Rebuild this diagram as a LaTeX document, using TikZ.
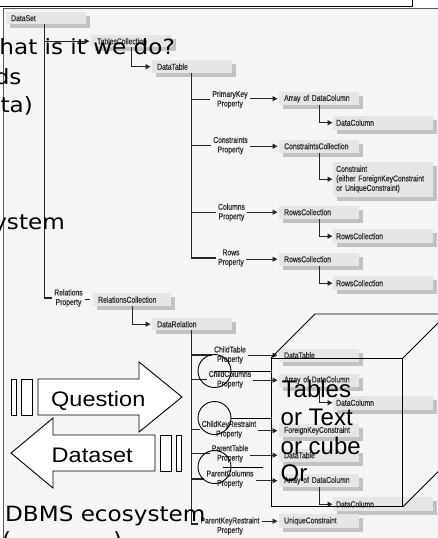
\documentclass[tikz,border=0pt]{standalone}
\usepackage{fontspec}
\usetikzlibrary{arrows.meta,shadows,calc}
\newfontfamily\slidefont[FakeStretch=1.1]{DejaVu Sans}
\newfontfamily\arrowfont[FakeStretch=1.12]{Liberation Sans}
\newfontfamily\cubefont{Liberation Sans}
\newfontfamily\tagfont[FakeStretch=0.8,FakeBold=0.6]{Liberation Sans}
\definecolor{pagegray}{HTML}{F5F5F5}
\definecolor{boxfill}{HTML}{E6E6E6}
\definecolor{shadowgray}{HTML}{C2C2C2}
\definecolor{linegray}{HTML}{262626}
\definecolor{labelgray}{HTML}{2E2E2E}
\definecolor{bordergray}{HTML}{5A5A5A}
\begin{document}
\begin{tikzpicture}[x=1pt,y=-1pt,
  conn/.style={draw=linegray, line width=1.2pt},
  arr/.style={conn, -{Triangle[length=5pt,width=5pt]}},
  tag/.style={font=\tagfont\fontsize{8.5}{9.5}\selectfont, text=labelgray, align=center, inner sep=0pt},
  box/.style={fill=boxfill, anchor=north west, inner ysep=0pt, align=left,
    font=\tagfont\fontsize{8.5}{9.5}\selectfont, text=labelgray,
    drop shadow={shadow xshift=4pt,shadow yshift=-4pt,fill=shadowgray,opacity=1}},
  bigbox/.style={box, inner xsep=5pt, text width=70pt, minimum height=13pt},
  subbox/.style={box, inner xsep=3pt, text width=94pt, minimum height=14pt},
  slide/.style={font=\slidefont\fontsize{21}{25}\selectfont, inner sep=0pt, text=black},
  cubetext/.style={font=\cubefont\fontsize{24}{28}\selectfont, inner sep=0pt, anchor=base west},
  arrowtext/.style={font=\arrowfont\fontsize{21}{25}\selectfont, inner sep=0pt, anchor=base west},
  outline/.style={draw=black, line width=0.9pt},
  blockarrow/.style={outline, fill=white}]

\clip (0,0) rectangle (438,538);
\fill[white] (0,0) rectangle (438,538);
% corner of the text frame above
\draw[black, line width=0.8pt] (0,6.5) -- (412,6.5) -- (412,0);
% panel of the object model
\draw[draw=bordergray, fill=pagegray, line width=1pt] (3.3,8.5) rectangle (446,546);

% ---------- DataSet and tables ----------
\node[box, inner xsep=5pt, text width=70pt, minimum height=12pt] (ds) at (6,12) {DataSet};
\node[box, inner xsep=6pt, text width=69pt, minimum height=12pt] (tc) at (91,35) {TablesCollection};
\node[bigbox] (dt) at (152,60) {DataTable};

\coordinate (dsT) at ([xshift=-2pt]ds.south);
\draw[arr, shorten >=1.5pt] (dsT |- tc.west) -- (tc.west);
\draw[arr, shorten >=1.5pt] (tc.south) |- (dt.west);

% property labels of DataTable
\node[tag] (pkL) at (230,99.5) {PrimaryKey\\Property};
\node[tag] (coL) at (230.5,145.5) {Constraints\\Property};
\node[tag] (clL) at (231.5,212.3) {Columns\\Property};
\node[tag] (rwL) at (231,258) {Rows\\Property};

\node[bigbox] (pkB) at (279,92) {Array of DataColumn};
\node[subbox] (pkS) at (333,115.5) {DataColumn};
\node[bigbox] (coB) at (279,139.5) {ConstraintsCollection};
\node[subbox, minimum height=35pt] (coS) at (333,161.5) {Constraint\\(either ForeignKeyConstraint\\or UniqueConstraint)};
\node[bigbox] (clB) at (279,205.5) {RowsCollection};
\node[subbox] (clS) at (333,229) {RowsCollection};
\node[bigbox] (rwB) at (279,252.5) {RowsCollection};
\node[subbox] (rwS) at (333,276) {RowsCollection};

\coordinate (dtT) at ([xshift=-1pt]dt.south);
\draw[conn, shorten >=2pt] (dtT) |- (rwL.west);
\foreach \l in {pkL,coL,clL}{
  \draw[conn, shorten >=2pt] (dtT |- \l.west) -- (\l.west);
}
\foreach \l/\b/\s in {pkL/pkB/pkS,coL/coB/coS,clL/clB/clS,rwL/rwB/rwS}{
  \draw[arr, shorten <=2pt, shorten >=1.5pt] (\l.east |- \b.west) -- (\b.west);
  \draw[arr, shorten >=0.5pt] (\b.south) |- (\s.west);
}

% ---------- relations ----------
\node[tag] (relL) at (68.5,298) {Relations\\Property};
\node[box, inner xsep=5pt, text width=68pt, minimum height=13pt] (rc) at (93,293) {RelationsCollection};
\node[bigbox, minimum height=12pt] (dr) at (152,318) {DataRelation};
\draw[conn, shorten >=2pt] (dsT) |- (relL.west);
\draw[conn, shorten <=2pt, shorten >=3pt] (relL.east |- rc.west) -- (rc.west);
\draw[arr, shorten >=1.5pt] (rc.south) |- (dr.west);

\node[tag] (ctL) at (230,355) {ChildTable\\Property};
\node[tag] (ccL) at (230,379.5) {ChildColumns\\Property};
\node[tag] (ckL) at (229,429.5) {ChildKeyRestraint\\Property};
\node[tag] (ptL) at (230,453.7) {ParentTable\\Property};
\node[tag] (pcL) at (230,479) {ParentColumns\\Property};
\node[tag] (prL) at (230,526) {ParentKeyRestraint\\Property};

\node[bigbox] (ctB) at (279,348.5) {DataTable};
\node[bigbox] (ccB) at (279,373.5) {Array of DataColumn};
\node[subbox] (ccS) at (333,395.5) {DataColumn};
\node[bigbox] (ckB) at (279,424) {ForeignKeyConstraint};
\node[bigbox] (ptB) at (279,448.5) {DataTable};
\node[bigbox] (pcB) at (279,474) {Array of DataColumn};
\node[subbox] (pcS) at (333,497) {DataColumn};
\node[bigbox, minimum height=14pt] (prB) at (279,514) {UniqueConstraint};

\coordinate (drT) at ([xshift=-1pt]dr.south);
\draw[conn, shorten >=2pt] (drT) |- ([yshift=2pt]prL.west);
\foreach \l in {ctL,ccL,ckL,ptL,pcL}{
  \draw[conn, shorten >=2pt] (drT |- \l.west) -- (\l.west);
}
\foreach \l/\b in {ctL/ctB,ccL/ccB,ckL/ckB,ptL/ptB,pcL/pcB,prL/prB}{
  \draw[arr, shorten <=2pt, shorten >=1.5pt] (\l.east |- \b.west) -- (\b.west);
}
\draw[arr, shorten >=0.5pt] (ccB.south) |- (ccS.west);
\draw[arr, shorten >=0.5pt] (pcB.south) |- (pcS.west);

% ---------- slide text ----------
\node[slide, anchor=base east] (t1) at (175,54) {hat is it we do?};
\node[slide, anchor=base east] (t2) at (21.7,84.5) {ds};
\node[slide, anchor=base east] (t3) at (33,112.5) {ta)};
\node[slide, anchor=base east] (t4) at (65,229) {ystem};
\node[slide, anchor=base west] (t5) at (5,521) {DBMS ecosystem};
\node[slide, anchor=base west] (t6) at (2,547) {(};
\node[slide, anchor=base west] (t7) at (113,547) {)};

% ---------- striped block arrows ----------
\draw[blockarrow] (11,379) rectangle (16,415);
\draw[blockarrow] (21,379) rectangle (32,415);
\draw[blockarrow] (38,379) -- (139,379) -- (139,362) -- (182,397)
  -- (139,432) -- (139,415) -- (38,415) -- cycle;
\node[arrowtext] (q) at (51,406) {Question};

\draw[blockarrow] (160,435) rectangle (171,471);
\draw[blockarrow] (176,435) rectangle (181,471);
\draw[blockarrow] (155,435) -- (53,435) -- (53,418) -- (11,453)
  -- (53,488) -- (53,471) -- (155,471) -- cycle;
\node[arrowtext] (d) at (51.5,462) {Dataset};

% ---------- cube ----------
\node[outline, minimum width=131pt, minimum height=148pt, inner sep=0pt, anchor=north west] (front) at (271,358) {};
\draw[outline] (front.north west) -- ++(44,-44) -- ++(131,0) -- ++(0,148);
\draw[outline] (front.north east) -- ++(44,-44);
\draw[outline] (front.south east) -- ++(44,-44);
\node[cubetext] (c1) at (281.5,397) {Tables};
\node[cubetext] (c2) at (280.5,425.5) {or Text};
\node[cubetext] (c3) at (280.5,454) {or cube};
\node[cubetext] (c4) at (280.5,481.5) {Or};

% ---------- callout circles ----------
\node[outline, circle, minimum size=33pt, inner sep=0pt] (k1) at (214.5,371) {};
\node[outline, circle, minimum size=33pt, inner sep=0pt] (k2) at (214.5,418) {};
\node[outline, circle, minimum size=33pt, inner sep=0pt] (k3) at (214.5,467) {};
\draw[outline] (k1.center) -- (k1.center -| front.west);
\draw[outline] (k2.east) -- (k2.east -| front.west);
\draw[outline] ([xshift=-8pt]k3.east) -- ([xshift=-8pt]k3.east -| front.west);
\end{tikzpicture}
\end{document}
